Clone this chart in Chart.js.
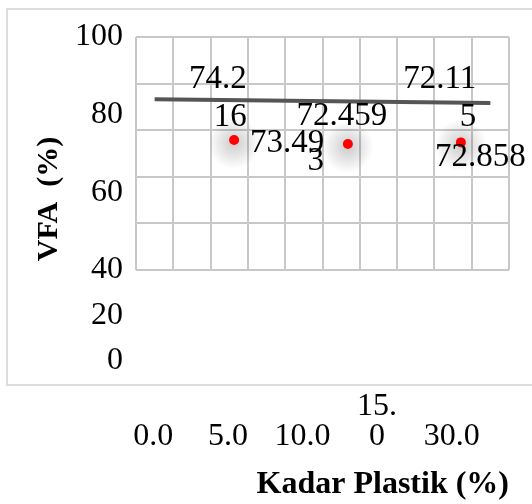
<!DOCTYPE html>
<html>
<head>
<meta charset="utf-8">
<script src="https://cdn.jsdelivr.net/npm/chart.js@4.4.1/dist/chart.umd.min.js"></script>
<style>
  html, body { margin: 0; padding: 0; background: #fff; }
  canvas { display: block; }
</style>
</head>
<body>
<canvas id="vfaChart" width="532" height="504"></canvas>
<script>
const kadar = ["0.0", "5.0", "10.0", "15.0", "30.0"];
const vfa = [74.216, 73.493, 72.459, 72.115, 72.858];
const yTicks = [100, 80, 60, 40, 20, 0];

// red markers: which vfa values show as dots, and where they sit across the 10 grid columns
const dotIdx = [1, 2, 4];
const dotX = [2.63, 5.68, 8.71];

// the dark line across the plot, with the values labelled at its ends
const trendX = [0.5, 9.5];
const trendY = [84.0, 83.0];
const trendIdx = [0, 3];

const serif = "'Liberation Serif', 'Times New Roman', serif";
const gridColor = "#c8c8c8";
const gridStepY = 12;

// Excel wrapped some labels onto two lines; [dx, dy, align] for each line
const labelPlacement = [
  { ds: 0, i: 0, cut: 4, at: [[92, -20, "right"], [92, 18, "right"]] },
  { ds: 0, i: 1, cut: 5, at: [[-14, -24, "right"], [-14, 14, "right"]] },
  { ds: 1, i: 0, cut: 5, at: [[16, 3, "left"], [90, 21, "right"]] },
  { ds: 1, i: 1, cut: 0, at: [[-6, -28, "center"]] },
  { ds: 1, i: 2, cut: 0, at: [[-26, 15, "left"]] },
];

const extras = {
  id: "extras",
  beforeDraw(chart) {
    const { ctx } = chart;
    ctx.save();
    ctx.strokeStyle = "#dcdcdc";
    ctx.lineWidth = 2;
    ctx.strokeRect(7, 9, chart.width, 376);
    ctx.restore();
  },
  beforeDatasetsDraw(chart) {
    // vertical grid only over the upper (40-100) part of the axis
    const { ctx, scales: { xg, y } } = chart;
    ctx.save();
    ctx.strokeStyle = gridColor;
    ctx.lineWidth = 2;
    for (let v = xg.min; v <= xg.max; v += 1) {
      const px = Math.round(xg.getPixelForValue(v));
      ctx.beginPath();
      ctx.moveTo(px, y.top);
      ctx.lineTo(px, y.bottom);
      ctx.stroke();
    }
    // soft glow behind the red markers
    chart.getDatasetMeta(1).data.forEach((pt) => {
      const g = ctx.createRadialGradient(pt.x, pt.y + 3, 0, pt.x, pt.y + 3, 26);
      g.addColorStop(0, "rgba(0,0,0,0.2)");
      g.addColorStop(0.5, "rgba(0,0,0,0.1)");
      g.addColorStop(1, "rgba(0,0,0,0)");
      ctx.fillStyle = g;
      ctx.fillRect(pt.x - 26, pt.y - 23, 52, 52);
    });
    ctx.restore();
  },
  afterDatasetsDraw(chart) {
    const { ctx } = chart;
    ctx.save();
    ctx.fillStyle = "#000";
    ctx.font = "33px " + serif;
    ctx.textBaseline = "middle";
    labelPlacement.forEach((p) => {
      const pt = chart.getDatasetMeta(p.ds).data[p.i];
      const text = chart.data.datasets[p.ds].valueLabels[p.i];
      const parts = p.cut ? [text.slice(0, p.cut), text.slice(p.cut)] : [text];
      parts.forEach((s, k) => {
        const [dx, dy, align] = p.at[k];
        ctx.textAlign = align;
        ctx.fillText(s, pt.x + dx, pt.y + dy);
      });
    });
    ctx.restore();
  },
};

new Chart(document.getElementById("vfaChart"), {
  type: "scatter",
  data: {
    datasets: [
      {
        label: "Trend",
        data: trendX.map((x, i) => ({ x, y: trendY[i] })),
        valueLabels: trendIdx.map((k) => vfa[k].toFixed(3)),
        showLine: true,
        borderColor: "#555555",
        borderWidth: 4,
        pointRadius: 0,
        xAxisID: "xg",
        yAxisID: "y",
      },
      {
        label: "VFA",
        data: dotIdx.map((k, i) => ({ x: dotX[i], y: vfa[k] })),
        valueLabels: dotIdx.map((k) => vfa[k].toFixed(3)),
        backgroundColor: "#ff0000",
        borderWidth: 0,
        pointRadius: 5,
        xAxisID: "xg",
        yAxisID: "y",
      },
    ],
  },
  options: {
    responsive: false,
    animation: false,
    layout: { padding: { left: 31, top: 37, right: 23, bottom: 0 } },
    plugins: { legend: { display: false }, tooltip: { enabled: false } },
    scales: {
      x: {
        type: "category",
        labels: kadar,
        offset: true,
        position: "bottom",
        // invisible tick marks push the labels well below the plot
        grid: { display: true, drawOnChartArea: false, drawTicks: true, tickLength: 46, tickColor: "rgba(0,0,0,0)" },
        border: { display: false },
        ticks: {
          color: "#000",
          font: { family: serif, size: 32, lineHeight: "30px" },
          padding: 0,
          labelOffset: -20,
          crossAlign: "far",
          maxRotation: 0,
          autoSkip: false,
          callback: (v) => (kadar[v] === "15.0" ? ["15.", "0"] : kadar[v]),
        },
        title: {
          display: true,
          text: "Kadar Plastik (%)",
          align: "end",
          color: "#000",
          padding: 0,
          font: { family: serif, size: 32, weight: "bold" },
        },
        afterFit: (s) => { s.height = 143; },
      },
      xg: {
        type: "linear",
        display: false,
        min: 0,
        max: 10,
      },
      yTitle: {
        type: "linear",
        position: "left",
        weight: 10,
        ticks: { display: false },
        grid: { display: false },
        border: { display: false },
        title: {
          display: true,
          text: "VFA  (%)",
          color: "#000",
          padding: 0,
          font: { family: serif, size: 30, weight: "bold" },
        },
        afterFit: (s) => { s.width = 36; },
      },
      y: {
        type: "linear",
        position: "left",
        stack: "vfa",
        stackWeight: 233,
        weight: 2,
        min: 40,
        max: 100,
        border: { display: false },
        grid: {
          lineWidth: 2,
          drawTicks: false,
          color: (c) => ((c.tick.value - 40) % gridStepY === 0 ? gridColor : "rgba(0,0,0,0)"),
        },
        ticks: {
          stepSize: 4,
          autoSkip: false,
          padding: 13,
          color: "#000",
          font: { family: serif, size: 32 },
          callback: (v) => (yTicks.includes(v) ? v : ""),
        },
        afterFit: (s) => { s.width = 69; },
      },
      yLow: {
        type: "linear",
        position: "left",
        stack: "vfa",
        stackWeight: 91,
        weight: 1,
        min: 0,
        max: 40,
        border: { display: false },
        grid: { display: false, drawTicks: false },
        ticks: {
          stepSize: 20,
          autoSkip: false,
          padding: 13,
          color: "#000",
          font: { family: serif, size: 32 },
          callback: (v) => (v < 40 && yTicks.includes(v) ? v : ""),
        },
        afterFit: (s) => { s.width = 69; },
      },
    },
  },
  plugins: [extras],
});
</script>
</body>
</html>
